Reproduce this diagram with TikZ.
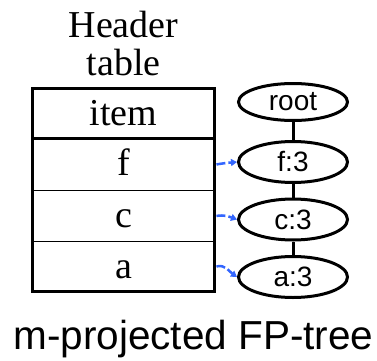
\documentclass[tikz,border=0pt]{standalone}
\usepackage{fontspec}
\setmainfont{Liberation Serif}
\newfontfamily\arialfont{Liberation Sans}
\usetikzlibrary{shapes.geometric,arrows.meta}
\definecolor{linkblue}{RGB}{51,102,255}
\begin{document}
\begin{tikzpicture}[x=1pt,y=1pt,
  cellbox/.style={draw,line width=0.9pt,inner sep=0pt,minimum width=181pt,
    text height=37pt,font=\fontsize{38}{38}\selectfont,anchor=north},
  treenode/.style={draw,ellipse,line width=3pt,inner sep=0pt,minimum width=109pt,
    minimum height=41pt,font=\arialfont\fontsize{28}{28}\selectfont},
  hdrtext/.style={font=\fontsize{38}{38}\selectfont,inner sep=0pt,anchor=base},
  treeedge/.style={line width=3pt},
  linkarrow/.style={draw=linkblue,line width=2.5pt,dash pattern=on 9pt off 3pt,
    -{Triangle[length=6pt,width=7pt,fill=linkblue]}}
]
\useasboundingbox (0,0) rectangle (377,360);
% header caption
\node[hdrtext] (hdrA) at (123.5,323) {Header};
\node[hdrtext] (hdrB) at (123.5,285) {table};
% table cells
\node[cellbox,text depth=13pt] (item) at (123.5,272) {item};
\node[cellbox,text depth=15pt] (fcell) at (123.5,222) {f};
\node[cellbox,text depth=14pt] (ccell) at (123.5,170) {c};
\node[cellbox,text depth=13pt] (acell) at (123.5,119) {a};
\draw[line width=3pt] (item.north west) rectangle (acell.south east);
\draw[line width=3pt] (item.south west) -- (item.south east);
% tree
\node[treenode,minimum height=37pt] (root) at (293,258) {root};
\node[treenode] (f3) at (293,198) {f:3};
\node[treenode] (c3) at (293,140.5) {c:3};
\node[treenode] (a3) at (293,83) {a:3};
\draw[treeedge] (root) -- (f3);
\draw[treeedge] (f3) -- (c3);
\draw[treeedge] (c3) -- (a3);
% node links
\draw[linkarrow] ([xshift=2pt]fcell.east) to[out=10,in=185] (f3.west);
\draw[linkarrow] ([xshift=2pt]ccell.east) to[out=10,in=160] (c3.west);
\draw[linkarrow] ([xshift=2pt]acell.east) to[out=15,in=145] (a3.west);
% caption
\node[font=\arialfont\fontsize{40.5}{40.5}\selectfont,inner sep=0pt,anchor=base] (cap) at (193.5,11) {m-projected FP-tree};
\end{tikzpicture}
\end{document}
